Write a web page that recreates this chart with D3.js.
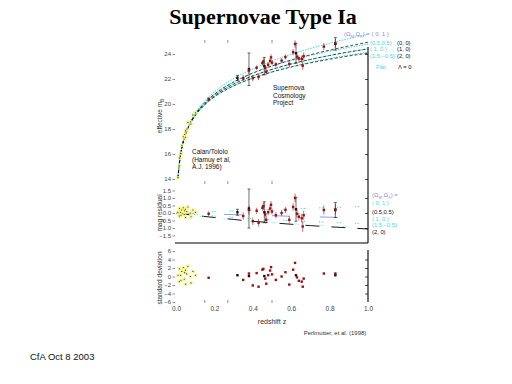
<!DOCTYPE html>
<html><head><meta charset="utf-8">
<script src="https://cdn.jsdelivr.net/npm/d3@7"></script>
<style>body{margin:0;background:#fff}svg{display:block}text{font-family:"Liberation Sans",Arial,sans-serif}</style>
</head><body><svg id="c" width="512" height="384"></svg>
<script>
// ---------- data ----------
const curveZ   = [0.01,0.02,0.03,0.05,0.07,0.1,0.15,0.2,0.3,0.4,0.5,0.6,0.7,0.8,0.9,1.0];
const mFlat01  = [14.09,15.61,16.51,17.67,18.44,19.27,20.25,20.97,22.02,22.81,23.44,23.98,24.44,24.86,25.23,25.57];
const mFlat55  = [14.08,15.60,16.49,17.63,18.38,19.19,20.12,20.80,21.77,22.48,23.03,23.49,23.88,24.22,24.52,24.78];
const mFlat10  = [14.07,15.58,16.47,17.59,18.33,19.12,20.02,20.67,21.59,22.25,22.77,23.20,23.56,23.88,24.16,24.41];
const mFlat15  = [14.06,15.56,16.44,17.55,18.27,19.05,19.93,20.55,21.44,22.07,22.57,22.98,23.33,23.64,23.91,24.15];
const mOpen00  = [14.08,15.59,16.48,17.61,18.36,19.17,20.10,20.78,21.75,22.47,23.04,23.52,23.94,24.31,24.64,24.94];
const mOpen10  = [14.07,15.58,16.47,17.59,18.33,19.12,20.02,20.67,21.59,22.25,22.77,23.20,23.56,23.88,24.16,24.41];
const mOpen20  = [14.06,15.57,16.45,17.56,18.29,19.06,19.94,20.57,21.45,22.07,22.56,22.96,23.29,23.58,23.84,24.06];

const resZ     = [0,0.1,0.2,0.3,0.4,0.5,0.6,0.7,0.8,0.9,1.0];
const rFlat01  = [0,0.05,0.09,0.14,0.18,0.23,0.27,0.32,0.36,0.40,0.44];
const rFlat55  = [0,-0.04,-0.07,-0.11,-0.15,-0.18,-0.22,-0.25,-0.28,-0.31,-0.35];
const rFlat10  = [0,-0.11,-0.21,-0.29,-0.37,-0.44,-0.51,-0.57,-0.62,-0.67,-0.72];
const rFlat15  = [0,-0.18,-0.32,-0.44,-0.55,-0.64,-0.72,-0.79,-0.86,-0.92,-0.98];
const rOpen20  = [0,-0.16,-0.30,-0.43,-0.55,-0.65,-0.75,-0.84,-0.92,-0.99,-1.07];

const ctZ   = [0.010,0.017,0.018,0.024,0.026,0.030,0.038,0.043,0.045,0.049,0.050,0.056,0.062,0.075,0.078,0.088,0.101];
const ctM   = [14.10,15.05,15.67,16.06,16.03,16.70,17.38,17.20,17.56,17.85,17.34,18.00,18.53,18.56,18.40,19.13,19.30];
const ctRes = [0.05,-0.20,0.30,0.05,-0.15,0.20,0.35,-0.10,0.15,0.25,-0.30,0.10,0.40,0.00,-0.25,0.20,0.05];
const ctErr = [0.20,0.18,0.18,0.17,0.17,0.17,0.17,0.17,0.17,0.17,0.17,0.17,0.17,0.17,0.17,0.17,0.17];
const ctSig = [0.3,-1.2,1.8,0.3,-0.9,1.2,2.1,-0.6,0.9,1.5,-1.8,0.6,2.4,0.0,-1.5,1.2,0.3];

const scpZ   = [0.17,0.32,0.35,0.38,0.38,0.40,0.42,0.43,0.45,0.455,0.46,0.465,0.47,0.48,0.49,0.495,0.50,0.52,0.55,0.57,0.59,0.62,0.61,0.625,0.63,0.64,0.655,0.66,0.665,0.77,0.83,0.83];
const scpM   = [20.40,22.09,22.07,22.78,22.68,22.07,22.90,22.16,23.28,23.40,23.03,22.90,22.58,23.14,23.45,23.73,23.31,23.17,23.47,23.76,23.20,24.80,24.15,24.06,23.79,23.63,23.59,23.06,23.83,24.59,24.81,24.86];
const scpRes = [-0.05,0.05,-0.20,0.30,0.20,-0.55,0.15,-0.65,0.35,0.45,0.05,-0.10,-0.45,0.05,0.30,0.55,0.10,-0.15,0.00,0.20,-0.45,1.00,0.40,0.25,-0.05,-0.25,-0.35,-0.90,-0.15,0.20,0.20,0.25];
const scpErr = [0.15,0.20,0.25,1.30,0.30,0.25,0.20,0.25,0.20,0.25,0.70,0.20,0.25,0.20,0.20,0.25,0.20,0.20,0.20,0.20,0.25,0.30,0.25,0.80,0.25,0.25,0.30,0.35,0.30,0.30,0.50,0.35];
const scpSig = [-0.3,0.3,-0.8,0.1,0.7,-2.1,0.8,-2.4,1.6,1.8,0.1,-0.5,-1.7,0.3,1.4,2.2,0.5,-0.8,0.0,1.0,-1.9,3.2,1.6,0.3,-0.2,-1.0,-1.2,-2.4,-0.5,0.7,0.3,0.7];
const scpSet = ["C","X","C","X","C","C","C","C","C","C","X","C","C","C","C","C","C","C","C","C","C","C","C","X","C","C","C","C","C","C","X","C"];

const xTicks = [0,0.2,0.4,0.6,0.8,1.0];
const minorZ = [0.15,0.27,0.5];
const mTicks = [14,16,18,20,22,24];
const rTicks = [-1.5,-1,-0.5,0,0.5,1,1.5];
const sTicks = [-6,-4,-2,0,2,4,6];

// ---------- drawing ----------
const svg = d3.select('#c');
const CY = '#3cdcdc', PU = '#8c8ce6', RED = '#9a1010', YEL = '#f2f27a';
const x  = d3.scaleLinear([0,1],[176,368]);
const yT = d3.scaleLinear([14,24],[179,54]);
const yM = d3.scaleLinear([-2,2],[243,183]);
const yB = d3.scaleLinear([-6,6],[302,251]);

svg.append('text').attr('x',263).attr('y',24).attr('text-anchor','middle')
  .style('font-family','"Liberation Serif","Times New Roman",serif').attr('font-weight','bold')
  .attr('font-size',22).text('Supernovae Type Ia');

function leftAxis(scale, ticks, fmt){
  const g = svg.append('g').attr('transform','translate(175,0)')
    .call(d3.axisLeft(scale).tickValues(ticks).tickSize(2.5).tickPadding(1.5).tickFormat(fmt));
  g.select('.domain').remove();
  g.attr('font-size',6).attr('font-family','"Liberation Sans",Arial,sans-serif');
  g.selectAll('text').attr('fill','#444');
  g.selectAll('line').attr('stroke','#444').attr('stroke-width',0.6);
}
leftAxis(yT, mTicks, d3.format('d'));
leftAxis(yM, rTicks, d3.format('.1f'));
leftAxis(yB, sTicks, d3.format('d'));

function rightTicks(scale, ticks){
  const g = svg.append('g').attr('transform',`translate(${x(1)},0)`)
    .call(d3.axisLeft(scale).tickValues(ticks).tickSize(3).tickFormat(''));
  g.select('.domain').remove();
  g.selectAll('line').attr('stroke','#000').attr('stroke-width',0.7);
}
rightTicks(yT, mTicks); rightTicks(yM, [-1,0,1]); rightTicks(yB, [-4,-2,0,2,4]);

// frame lines
svg.append('line').attr('x1',x(1)).attr('x2',x(1)).attr('y1',47).attr('y2',yM(-2)).attr('stroke','#000').attr('stroke-width',1.1);
svg.append('line').attr('x1',x(0)-1).attr('x2',x(1)).attr('y1',yM(-2)).attr('y2',yM(-2)).attr('stroke','#000').attr('stroke-width',1.1);
svg.append('line').attr('x1',x(1)).attr('x2',x(1)).attr('y1',yB(6)-1).attr('y2',yB(-6)).attr('stroke','#000').attr('stroke-width',1.1);

// minor ticks on top/bottom edges
[[40,3],[184,-3],[303,-3]].forEach(([yy,d])=>{
  svg.append('g').selectAll('line').data(minorZ).join('line')
    .attr('x1',d=>x(d)).attr('x2',d=>x(d)).attr('y1',yy).attr('y2',yy+d)
    .attr('stroke','#444').attr('stroke-width',0.6);
});

// x axis labels
const xa = svg.append('g').attr('transform','translate(0,302)')
  .call(d3.axisBottom(x).tickValues(xTicks).tickSize(0).tickPadding(4).tickFormat(d3.format('.1f')));
xa.select('.domain').remove();
xa.attr('font-size',6.5).attr('font-family','"Liberation Sans",Arial,sans-serif');
xa.selectAll('text').attr('fill','#444');

svg.append('text').attr('x',272).attr('y',324).attr('text-anchor','middle').attr('font-size',7).attr('fill','#333').text('redshift  z');
svg.append('text').attr('x',335).attr('y',335).attr('text-anchor','middle').attr('font-size',6).attr('fill','#333').text('Perlmutter, et al. (1998)');
svg.append('text').attr('x',30).attr('y',360).attr('font-size',9.5).attr('fill','#111').text('CfA Oct 8 2003');

// y titles
function ytitle(cx, cy, txt, sub){
  const t = svg.append('text').attr('transform',`translate(${cx},${cy}) rotate(-90)`)
    .attr('text-anchor','middle').attr('font-size',6.5).attr('fill','#333');
  t.append('tspan').text(txt);
  if (sub) t.append('tspan').attr('font-size',4.5).attr('dy',2).text(sub);
}
ytitle(162,116,'effective  m','B');
ytitle(162,213,'mag residual');
ytitle(162,278,'standard deviation');

// model curves (top)
const lineT = d3.line().x(d=>x(d[0])).y(d=>yT(d[1])).curve(d3.curveMonotoneX);
[mFlat01,mFlat55,mFlat10,mFlat15].forEach(a=>{
  svg.append('path').attr('d',lineT(d3.zip(curveZ,a))).attr('fill','none')
    .attr('stroke',CY).attr('stroke-width',1).attr('stroke-dasharray','1.5,1.2');
});
[mOpen00,mOpen10,mOpen20].forEach(a=>{
  svg.append('path').attr('d',lineT(d3.zip(curveZ,a))).attr('fill','none')
    .attr('stroke','#000').attr('stroke-width',0.7).attr('stroke-dasharray','3,2');
});

// residual model lines (middle)
const lineM = d3.line().x(d=>x(d[0])).y(d=>yM(d[1])).curve(d3.curveMonotoneX);
[rFlat01,rFlat10].forEach(a=>{
  svg.append('path').attr('d',lineM(d3.zip(resZ,a))).attr('fill','none')
    .attr('stroke',CY).attr('stroke-width',1).attr('stroke-dasharray','1.2,1.5,1.2,14');
});
svg.append('path').attr('d',lineM(d3.zip(resZ,rFlat55))).attr('fill','none')
  .attr('stroke',PU).attr('stroke-width',0.9).attr('stroke-dasharray','18,30');
svg.append('path').attr('d',lineM(d3.zip(resZ,rOpen20))).attr('fill','none')
  .attr('stroke','#000').attr('stroke-width',0.9).attr('stroke-dasharray','14,12');
svg.append('path').attr('d',lineM(d3.zip(resZ,rFlat15))).attr('fill','none')
  .attr('stroke',CY).attr('stroke-width',0.8).attr('stroke-dasharray','1,2,1,20');

// ---- Calan/Tololo points ----
const ct = ctZ.map((z,i)=>({z,m:ctM[i],r:ctRes[i],e:ctErr[i],s:ctSig[i]}));
function ctDots(sel, yf){
  sel.selectAll(null).data(ct).join('circle').attr('cx',d=>x(d.z)).attr('cy',yf)
    .attr('r',2).attr('fill',YEL).attr('opacity',0.8);
  sel.selectAll(null).data(ct).join('circle').attr('cx',d=>x(d.z)).attr('cy',yf)
    .attr('r',0.6).attr('fill','#333');
}
const gCT = svg.append('g');
gCT.selectAll(null).data(ct).join('line').attr('x1',d=>x(d.z)).attr('x2',d=>x(d.z))
  .attr('y1',d=>yM(d.r-d.e)).attr('y2',d=>yM(d.r+d.e)).attr('stroke',YEL).attr('stroke-width',0.7);
ctDots(gCT, d=>yT(d.m));
ctDots(gCT, d=>yM(d.r));
ctDots(gCT, d=>yB(d.s));

// ---- SCP points ----
const scp = scpZ.map((z,i)=>({z,m:scpM[i],r:scpRes[i],e:scpErr[i],s:scpSig[i],set:scpSet[i]}));
const col = d=>d.set==='X' ? '#111' : RED;
const gS = svg.append('g');
function errBars(yf, valKey){
  gS.selectAll(null).data(scp).join('line').attr('x1',d=>x(d.z)).attr('x2',d=>x(d.z))
    .attr('y1',d=>yf(d[valKey]-d.e)).attr('y2',d=>yf(d[valKey]+d.e))
    .attr('stroke',col).attr('stroke-width',0.6);
  scp.filter(d=>d.set==='X').forEach(d=>{
    [d[valKey]-d.e,d[valKey]+d.e].forEach(v=>{
      gS.append('line').attr('x1',x(d.z)-1.5).attr('x2',x(d.z)+1.5).attr('y1',yf(v)).attr('y2',yf(v))
        .attr('stroke','#111').attr('stroke-width',0.6);
    });
  });
}
errBars(yT,'m');
errBars(yM,'r');
function scpDots(yf){
  gS.selectAll(null).data(scp).join('rect').attr('x',d=>x(d.z)-1.2).attr('y',yf).attr('transform','translate(0,-1.2)')
    .attr('width',2.4).attr('height',2.4).attr('fill',col);
}
scpDots(d=>yT(d.m)); scpDots(d=>yM(d.r)); scpDots(d=>yB(d.s));

// ---- annotations ----
function lines(x0, y0, dy, arr, size, fill){
  arr.forEach((t,i)=>svg.append('text').attr('x',x0).attr('y',y0+i*dy).attr('font-size',size).attr('fill',fill||'#111').text(t));
}
lines(273,90,7.5,['Supernova','Cosmology','Project'],6.5);
lines(192,154,7.5,['Calan/Tololo','(Hamuy et al,','A.J. 1996)'],6.5);

function omegaLabel(x0,y0,tail){
  const t = svg.append('text').attr('x',x0).attr('y',y0).attr('font-size',6).attr('fill',PU);
  t.append('tspan').text('(Ω');
  t.append('tspan').attr('font-size',4).attr('dy',1.5).text('M');
  t.append('tspan').attr('dy',-1.5).text(',Ω');
  t.append('tspan').attr('font-size',4).attr('dy',1.5).text('Λ');
  t.append('tspan').attr('dy',-1.5).text(tail);
}
omegaLabel(344,36,') = ( 0, 1 )');
lines(370,45,6.3,['(0.5,0.5)','( 1, 0 )','(1.5,–0.5)'],5.8,CY);
lines(397,45,6.3,['(0, 0)','(1, 0)','(2, 0)'],5.8,'#111');
lines(376,69,0,['Flat'],5.8,CY);
lines(398,69,0,['Λ = 0'],5.8,'#111');

omegaLabel(372,197,') =');
lines(372,205,0,['( 0, 1 )'],5.8,CY);
lines(372,214,0,['(0.5,0.5)'],5.8,'#111');
lines(372,220.5,6.5,['( 1, 0 )','(1.5,–0.5)'],5.8,CY);
lines(372,234,0,['(2, 0)'],5.8,'#111');
</script>
</body></html>
